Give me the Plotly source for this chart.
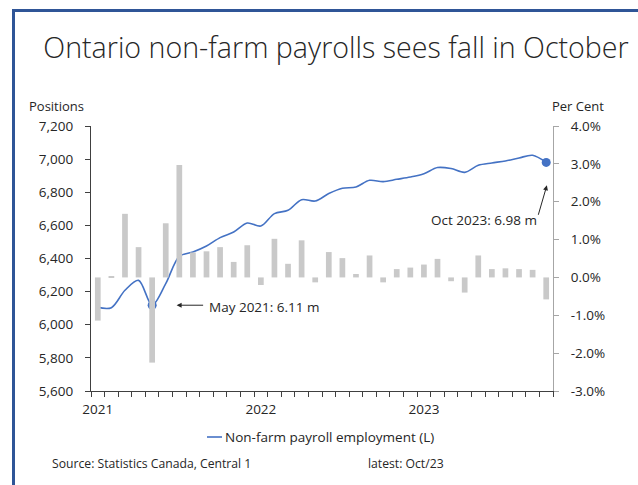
import pandas as pd
import plotly.graph_objects as go

# ---- data ----
months = list(pd.date_range("2021-01-01", periods=34, freq="MS").strftime("%b %Y"))
payroll_k = [6105, 6103, 6208, 6268, 6118, 6248, 6413, 6439, 6475, 6526, 6560, 6614,
             6596, 6671, 6691, 6755, 6747, 6792, 6824, 6832, 6872, 6864, 6878, 6892,
             6912, 6949, 6943, 6920, 6963, 6977, 6989, 7007, 7023, 6980]
change_pct = [-1.14, 0.03, 1.68, 0.80, -2.25, 1.43, 2.97, 0.66, 0.69, 0.80, 0.41, 0.85,
              -0.20, 1.02, 0.36, 0.98, -0.13, 0.67, 0.51, 0.09, 0.58, -0.13, 0.22, 0.26,
              0.34, 0.49, -0.10, -0.40, 0.58, 0.22, 0.24, 0.22, 0.20, -0.58]
year_labels = {"Jan 2021": "2021", "Jan 2022": "2022", "Jan 2023": "2023"}
left_ticks = [5600, 5800, 6000, 6200, 6400, 6600, 6800, 7000, 7200]
right_ticks = [-3, -2, -1, 0, 1, 2, 3, 4]
right_ticktext = ["-3.0%", "-2.0%", "-1.0%", "0.0%", "1.0%", "2.0%", "3.0%", "4.0%"]
highlight_idx = [4, 33]

FONT = "Open Sans"
TXT = "#262626"
BLUE = "#4472C4"

# plot-area geometry in pixels
W, H = 638, 485
L, R, T, B = 91, 553, 126, 391
pw, ph = R - L, B - T


def px_x(p):
    return (p - L) / pw


def px_y(p):
    return (B - p) / ph


fig = go.Figure()
fig.add_trace(go.Bar(x=months, y=change_pct, yaxis="y2", marker_color="#C9C9C9",
                     marker_line_width=0, showlegend=False, name="% change (R)"))
fig.add_trace(go.Scatter(x=months, y=payroll_k, mode="lines",
                         line=dict(color=BLUE, width=1.6, shape="spline", smoothing=0.9),
                         name="Non-farm payroll employment (L)", showlegend=False))
fig.add_trace(go.Scatter(x=[months[i] for i in highlight_idx], y=[payroll_k[i] for i in highlight_idx],
                         mode="markers", marker=dict(color=BLUE, size=9), showlegend=False))

fig.update_layout(
    width=W, height=H,
    margin=dict(l=L, r=W - R, t=T, b=H - B),
    paper_bgcolor="white", plot_bgcolor="white",
    font=dict(family=FONT, size=13, color=TXT),
    bargap=0.58,
    title=dict(text="Ontario non-farm payrolls sees fall in October", x=336 / W, xanchor="center",
               y=1 - 48 / H, yanchor="middle", font=dict(family=FONT, size=28.6, weight=300, color=TXT)),
    xaxis=dict(type="category", range=[-0.5, len(months) - 0.5], tickmode="array", tickvals=months,
               ticktext=[year_labels.get(m, "") for m in months], tickson="boundaries", tickangle=0,
               ticks="outside", ticklen=5, tickcolor="#404040", showline=True, linecolor="#404040",
               linewidth=1.2, showgrid=False, tickfont=dict(size=13.5), ticklabelstandoff=6),
    yaxis=dict(range=[5600, 7200], tickvals=left_ticks, tickformat=",", ticks="outside", ticklen=5,
               tickcolor="#404040", showline=True, linecolor="#404040", linewidth=1.2, showgrid=False,
               zeroline=False, tickfont=dict(size=13.5), ticklabelstandoff=9),
    yaxis2=dict(range=[-3, 4], overlaying="y", side="right", tickvals=right_ticks, ticktext=right_ticktext,
                ticks="outside", ticklen=5, tickcolor="#A6A6A6", showline=True, linecolor="#A6A6A6",
                linewidth=1, showgrid=False, zeroline=False, tickfont=dict(size=13.5), ticklabelstandoff=9),
)

# axis titles
fig.add_annotation(text="Positions", xref="paper", yref="paper", x=px_x(27), y=px_y(106),
                   xanchor="left", yanchor="middle", showarrow=False, font=dict(size=13))
fig.add_annotation(text="Per Cent", xref="paper", yref="paper", x=px_x(550), y=px_y(106),
                   xanchor="left", yanchor="middle", showarrow=False, font=dict(size=13))

# callouts
fig.add_annotation(x=5.8, y=payroll_k[4], xref="x", yref="y", text="", showarrow=True,
                   ax=28, ay=0, arrowhead=2, arrowsize=1, arrowwidth=1, arrowcolor="#262626")
fig.add_annotation(x=8.0, y=6105, xref="x", yref="y", text="May 2021: 6.11 m", showarrow=False,
                   xanchor="left", yanchor="middle", font=dict(size=13.5))
fig.add_annotation(x=33.05, y=6842, xref="x", yref="y", text="", showarrow=True,
                   ax=-9, ay=31, arrowhead=2, arrowsize=1, arrowwidth=1, arrowcolor="#262626")
fig.add_annotation(x=33.0, y=6631, xref="x", yref="y", text="Oct 2023: 6.98 m", showarrow=False,
                   xanchor="right", yanchor="middle", xshift=-7, font=dict(size=13.5))

# legend (manual)
fig.add_shape(type="line", xref="paper", yref="paper", x0=px_x(207), x1=px_x(222), y0=px_y(437), y1=px_y(437),
              line=dict(color=BLUE, width=1.6))
fig.add_annotation(text="Non-farm payroll employment (L)", xref="paper", yref="paper", x=px_x(223), y=px_y(437),
                   xanchor="left", yanchor="middle", showarrow=False, font=dict(size=13.5))

# footer
fig.add_annotation(text="Source: Statistics Canada, Central 1", xref="paper", yref="paper", x=px_x(50), y=px_y(463),
                   xanchor="left", yanchor="middle", showarrow=False, font=dict(size=12.2))
fig.add_annotation(text="latest: Oct/23", xref="paper", yref="paper", x=px_x(366), y=px_y(463),
                   xanchor="left", yanchor="middle", showarrow=False, font=dict(size=12.2))

# frame border (left and top edges visible)
BC = "#2F5597"
fig.add_shape(type="line", xref="paper", yref="paper", x0=px_x(13.5), x1=px_x(13.5), y0=px_y(10.5), y1=px_y(500),
              line=dict(color=BC, width=3))
fig.add_shape(type="line", xref="paper", yref="paper", x0=px_x(12), x1=px_x(660), y0=px_y(10.5), y1=px_y(10.5),
              line=dict(color=BC, width=3))

fig.write_html("out.html")
